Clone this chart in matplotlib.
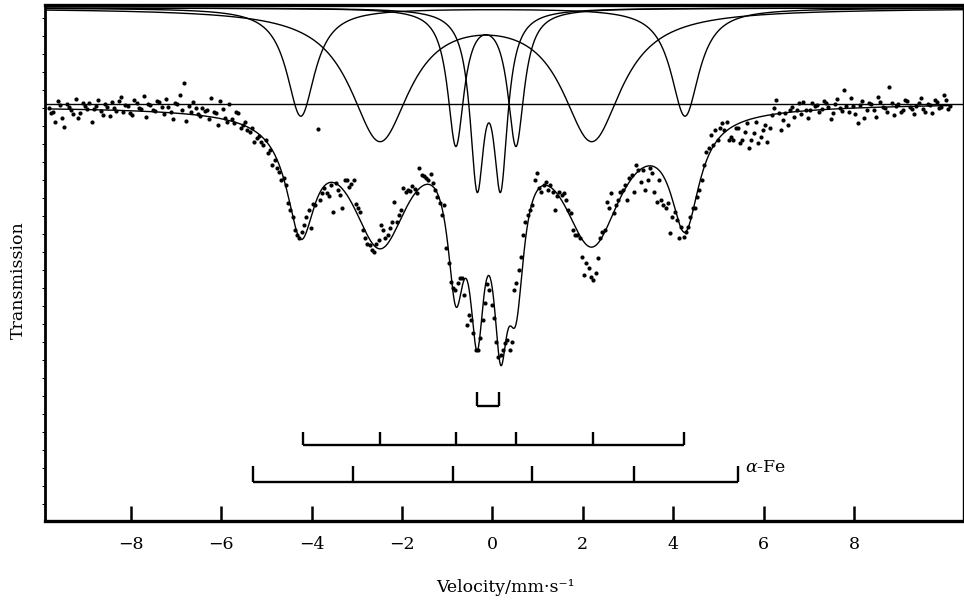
import numpy as np
import matplotlib.pyplot as plt

plt.rcParams['font.family'] = ['DejaVu Serif']
plt.rcParams['mathtext.fontset'] = 'dejavuserif'

# velocity of the first channel and channel spacing (mm/s)
v_start = -9.82
v_step = 0.1

# transmission (%), two interleaved sweeps
trans_a = [99.6, 99.2, 100.3, 98.6, 100.0, 99.4, 100.5, 99.1, 99.8, 100.1,
           99.5, 100.4, 98.9, 99.7, 100.2, 99.3, 100.7, 99.9, 99.1, 100.4,
           99.6, 100.8, 100.0, 99.4, 100.3, 99.7, 100.5, 99.2, 100.1, 100.9,
           102.1, 99.8, 100.2, 99.0, 99.6,
           99.4, 100.6, 99.1, 100.3, 98.6, 100.0, 98.1, 99.1, 97.9, 97.4,
           97.6, 96.6, 96.2, 96.4, 95.4,
           94.4, 93.2, 92.6, 90.1, 88.7, 86.9, 87.2, 88.7, 87.6, 89.9,
           90.4, 91.6, 90.8, 89.2, 91.4,
           89.6, 92.4, 92.0, 90.0, 89.2, 86.6, 85.9, 85.2, 86.4, 87.4,
           86.9, 88.2, 88.2, 89.4, 91.2,
           91.3, 91.5, 93.6, 92.8, 92.4, 92.1, 90.7, 88.9, 85.6, 82.2,
           81.4, 82.6, 80.9, 78.9, 77.1,
           75.4, 78.4, 82.0, 79.9, 76.2, 74.9, 76.1, 75.4, 81.4, 83.4,
           86.9, 88.9, 89.9, 93.1, 91.2,
           92.2, 91.9, 89.4, 91.2, 91.1, 89.4, 87.4, 86.9, 84.7, 84.1,
           82.7, 83.1, 86.6, 87.4, 89.6,
           89.1, 90.4, 91.4, 90.4, 92.9, 93.9, 92.2, 91.4, 93.6, 91.2,
           92.4, 89.9, 90.1, 88.7, 88.4,
           87.7, 87.2, 88.7, 89.6, 91.4, 93.9, 95.6, 95.9, 96.4, 98.1,
           98.2, 96.7, 97.6, 96.1, 97.2,
           95.6, 97.1, 96.1, 97.4, 96.2, 98.9, 100.4, 97.4, 99.1, 99.4,
           98.7, 100.1, 100.2, 98.6, 100.1,
           99.9, 99.5, 100.1, 98.5, 100.0, 99.6, 101.4, 99.2, 99.8, 98.1,
           100.3, 99.4, 100.0, 98.7, 100.2, 99.6, 101.7, 98.9, 100.0, 99.4,
           100.3, 99.5, 99.8, 100.6, 99.2, 99.9, 100.4, 99.6, 100.9, 99.5]

trans_b = [99.1, 98.2, 99.9, 97.7, 99.7, 99.0, 98.6, 100.1, 99.5, 98.2,
           99.8, 99.3, 100.0, 98.8, 99.6, 100.3, 99.2, 99.8, 98.9, 100.1,
           99.5, 98.7, 99.9, 99.3, 100.2, 99.0, 99.7, 98.5, 100.0, 99.4,
           98.3, 99.2, 99.6, 98.8, 99.3,
           98.5, 99.2, 97.9, 99.5, 98.2, 98.5, 99.2, 97.6, 98.2, 97.2,
           96.2, 96.8, 95.9, 95.1, 93.9,
           93.6, 92.4, 91.9, 89.4, 87.4, 86.6, 87.9, 89.4, 90.0, 97.5,
           91.1, 91.1, 91.9, 92.1, 90.9,
           92.4, 91.7, 92.4, 89.6, 87.4, 86.0, 85.4, 86.0, 87.9, 86.6,
           87.6, 90.2, 88.9, 91.6, 91.4,
           91.8, 91.1, 92.9, 92.6, 93.0, 91.4, 90.1, 89.9, 84.1, 81.6,
           82.1, 82.6, 77.9, 78.4, 75.4,
           76.6, 80.1, 81.4, 78.6, 74.7, 75.4, 76.4, 76.2, 82.1, 84.7,
           88.2, 89.4, 92.4, 91.6, 91.9,
           91.4, 91.2, 90.8, 90.9, 90.4, 89.1, 86.9, 86.6, 82.9, 83.6,
           82.4, 84.6, 87.2, 90.2, 91.1,
           89.9, 91.2, 91.9, 92.6, 91.2, 93.4, 93.4, 92.4, 93.1, 90.2,
           90.4, 89.6, 87.1, 89.2, 86.6,
           86.7, 87.7, 89.6, 90.7, 92.4, 95.2, 96.9, 97.4, 97.6, 97.4,
           96.4, 96.4, 97.6, 96.4, 98.1,
           96.4, 98.2, 96.7, 97.9, 97.6, 99.6, 99.1, 98.4, 97.9, 99.7,
           99.4, 99.0, 99.4, 99.4, 99.8,
           99.2, 100.3, 99.7, 99.1, 100.5, 99.3, 99.8, 100.6, 99.0, 99.9,
           98.6, 100.1, 99.4, 100.7, 99.7, 99.2, 100.1, 99.8, 99.2, 100.4,
           99.7, 99.0, 100.1, 99.5, 100.0, 99.1, 100.2, 99.7, 100.4, 99.8]

# fitted sub-spectra: line positions (mm/s), half widths (mm/s), depths (%)
outer_pos = [-4.24, 4.26]
outer_hw = 0.38
outer_depth = 10.8
mid_pos = [-2.49, 2.20]
mid_hw = 0.80
mid_depth = 13.0
inner_pos = [-0.81, 0.52]
inner_hw = 0.22
inner_depth = 13.5
dbl_pos = [-0.34, 0.18]
dbl_hw = 0.19
dbl_depth = 16.5

# baseline of the fit and of the sub-spectra drawn at the top
fit_base = 99.95
fit_slope = 0.015
sub_base = 109.6
ref_level = 100.0

# stick diagrams under the spectrum
sextet_ticks = [-4.20, -2.49, -0.81, 0.52, 2.22, 4.24]
doublet_ticks = [-0.35, 0.14]
fe_ticks = [-5.30, -3.09, -0.87, 0.87, 3.13, 5.43]


def lines(v, pos, hw, depth):
    s = np.zeros_like(v)
    for p in pos:
        s += depth / (1 + ((v - p) / hw) ** 2)
    return s


fig = plt.figure(figsize=(9.64, 6.0), dpi=100)
ax = fig.add_axes([45 / 964, 1 - 521 / 600, 918 / 964, 516 / 600])

xmin, xmax = -9.9, 10.41
ax.set_xlim(xmin, xmax)
ax.set_ylim(58.3, 109.9)

# reference line (100 %)
ax.axhline(ref_level, color='black', lw=1.0)

# sub-spectra at the top
vv = np.linspace(xmin, xmax, 2000)
comps = [(outer_pos, outer_hw, outer_depth), (mid_pos, mid_hw, mid_depth),
         (inner_pos, inner_hw, inner_depth), (dbl_pos, dbl_hw, dbl_depth)]
for pos, hw, dep in comps:
    ax.plot(vv, sub_base - lines(vv, pos, hw, dep), color='black', lw=1.0)

# total fit
n = len(trans_a)
va = v_start + v_step * np.arange(n)
vb = va + v_step / 2
vf = np.linspace(va[0], vb[-1], 2000)
total = np.zeros_like(vf)
for pos, hw, dep in comps:
    total += lines(vf, pos, hw, dep)
ax.plot(vf, fit_base + fit_slope * vf - total, color='black', lw=1.0)

# measured points
ax.plot(va, trans_a, 'o', color='black', ms=3.0, mew=0)
ax.plot(vb, trans_b, 'o', color='black', ms=3.0, mew=0)

# stick diagrams
def sticks(ticks, y, h):
    ax.plot([ticks[0], ticks[-1]], [y, y], color='black', lw=1.7,
            solid_capstyle='butt')
    ax.vlines(ticks, y, y + h, color='black', lw=1.7)

sticks(doublet_ticks, 69.8, 1.4)
sticks(sextet_ticks, 65.9, 1.3)
sticks(fe_ticks, 62.2, 1.6)
ax.text(fe_ticks[-1] + 0.15, 63.6, r'$\alpha$-Fe', fontsize=12.5,
        va='center', ha='left')

# axes styling
ax.spines['top'].set_linewidth(2.4)
ax.spines['left'].set_linewidth(2.0)
ax.spines['bottom'].set_linewidth(2.4)
ax.spines['right'].set_linewidth(1.0)

ax.set_xticks([-8, -6, -4, -2, 0, 2, 4, 6, 8])
ax.set_xticklabels(['\u22128', '\u22126', '\u22124', '\u22122', '0',
                    '2', '4', '6', '8'])
ax.tick_params(axis='x', direction='in', length=11, width=1.8,
               pad=11, labelsize=12.5)
ax.set_yticks(np.arange(60.0, 109.0, 1.8))
ax.set_yticklabels([])
ax.tick_params(axis='y', direction='out', length=2.5, width=0.7)

ax.set_xlabel('Velocity/mm\u00b7s\u207b\u00b9', fontsize=12.5)
ax.xaxis.set_label_coords(0.502, -0.112)
ax.set_ylabel('Transmission', fontsize=12.5)
ax.yaxis.set_label_coords(-0.020, 0.467)

fig.savefig('out.png', dpi=100)
